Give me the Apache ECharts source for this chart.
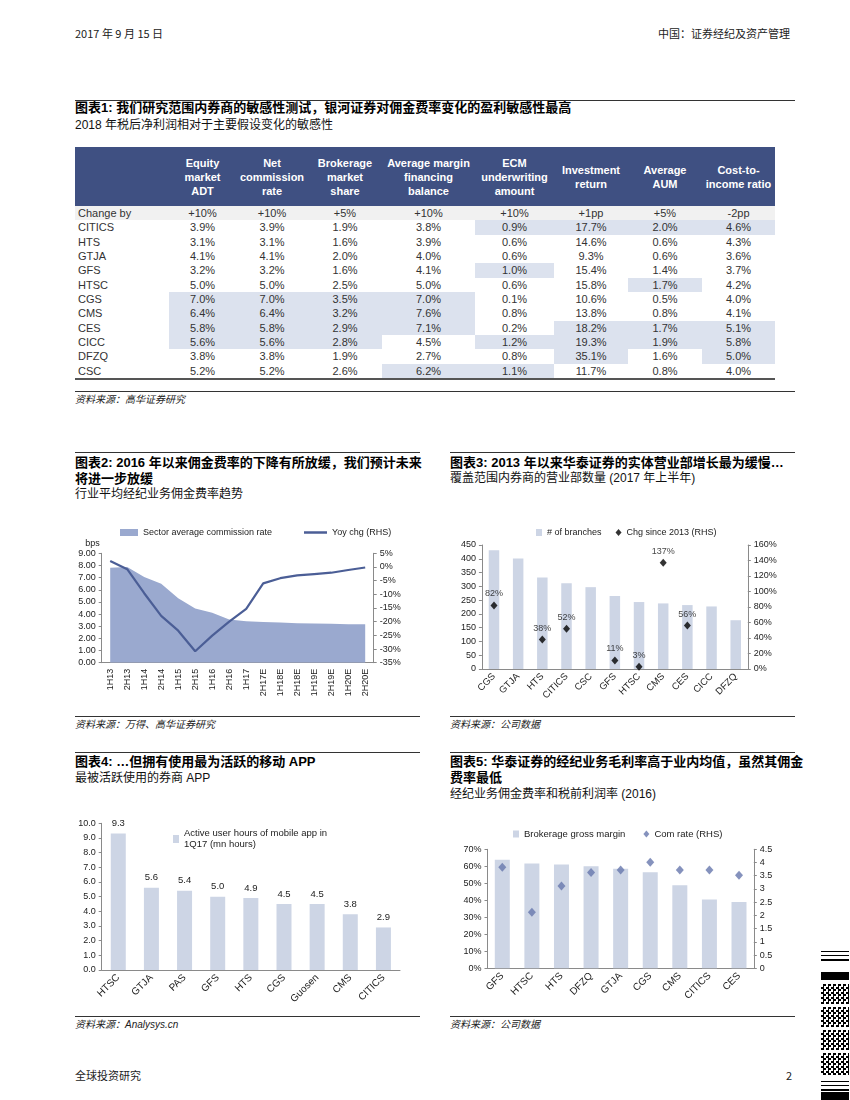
<!DOCTYPE html>
<html><head><meta charset="utf-8">
<script src="https://cdn.jsdelivr.net/npm/echarts@6/dist/echarts.min.js"></script>
<style>
body{margin:0;width:850px;height:1100px;position:relative;background:#fff;font-family:"Liberation Sans","Noto Sans CJK SC",sans-serif;color:#000;overflow:hidden}
.t{position:absolute;white-space:nowrap}
.title{font-weight:bold;font-size:13px;line-height:16px}
.sub{font-size:12px;line-height:16px;color:#111}
.src{font-size:10px;font-style:italic;line-height:14px;color:#222}
.hdr{font-size:11px;line-height:14px;font-family:"Noto Sans CJK SC","Liberation Sans",sans-serif;color:#222}
.rule{position:absolute;border-top:1.3px solid #333;height:0}
.chart{position:absolute}
#tbl{position:absolute;left:75px;top:147px;border-collapse:collapse;table-layout:fixed;font-size:11px;width:700px}
#tbl th{background:#3f5082;color:#fff;font-weight:bold;height:59px;padding:0;line-height:14px;text-align:center;white-space:nowrap;font-size:11px}
#tbl td{height:14.33px;padding:0;line-height:14px;text-align:center;color:#333;white-space:nowrap}
#tbl td.lab{text-align:left;padding-left:3px}
#tbl tr.chg td{background:#f1f1f1}
#tbl td.hi{background:#dce2ee}
#tbl tr:last-child td{border-bottom:2px solid #555}
#bc{position:absolute;left:821px;top:950px;width:28px;height:150px}
#bc div{position:absolute;left:0;width:28px;background:#000}
#bc div.qr{background:repeating-conic-gradient(#000 0 25%,#fff 0 50%) 0 0/5px 5px}
</style></head>
<body>
<div class="t hdr" style="left:75px;top:26px">2017 年 9 月 15 日</div>
<div class="t hdr" style="right:60px;top:26px">中国：证券经纪及资产管理</div>

<div class="rule" style="left:75px;top:100px;width:720px"></div>
<div class="t title" style="left:75px;top:100px">图表1: 我们研究范围内券商的敏感性测试，银河证券对佣金费率变化的盈利敏感性最高</div>
<div class="t sub" style="left:75px;top:117px">2018 年税后净利润相对于主要假设变化的敏感性</div>
<table id="tbl"></table>
<div class="rule" style="left:75px;top:391px;width:720px"></div>
<div class="t src" style="left:75px;top:393px">资料来源：高华证券研究</div>

<div class="rule" style="left:75px;top:452px;width:345px"></div>
<div class="t title" style="left:75px;top:455px">图表2: 2016 年以来佣金费率的下降有所放缓，我们预计未来<br>将进一步放缓</div>
<div class="t sub" style="left:75px;top:486px">行业平均经纪业务佣金费率趋势</div>
<div id="c2" class="chart" style="left:70px;top:515px;width:350px;height:195px"></div>
<div class="rule" style="left:75px;top:716px;width:345px"></div>
<div class="t src" style="left:75px;top:718px">资料来源：万得、高华证券研究</div>

<div class="rule" style="left:450px;top:452px;width:345px"></div>
<div class="t title" style="left:450px;top:455px">图表3: 2013 年以来华泰证券的实体营业部增长最为缓慢…</div>
<div class="t sub" style="left:450px;top:470px">覆盖范围内券商的营业部数量 (2017 年上半年)</div>
<div id="c3" class="chart" style="left:445px;top:515px;width:355px;height:195px"></div>
<div class="rule" style="left:450px;top:716px;width:345px"></div>
<div class="t src" style="left:450px;top:718px">资料来源：公司数据</div>

<div class="rule" style="left:75px;top:752px;width:345px"></div>
<div class="t title" style="left:75px;top:754px">图表4: …但拥有使用最为活跃的移动 APP</div>
<div class="t sub" style="left:75px;top:770px">最被活跃使用的券商 APP</div>
<div id="c4" class="chart" style="left:70px;top:790px;width:350px;height:222px"></div>
<div class="rule" style="left:75px;top:1016px;width:345px"></div>
<div class="t src" style="left:75px;top:1018px">资料来源：Analysys.cn</div>

<div class="rule" style="left:450px;top:752px;width:345px"></div>
<div class="t title" style="left:450px;top:754px">图表5: 华泰证券的经纪业务毛利率高于业内均值，虽然其佣金<br>费率最低</div>
<div class="t sub" style="left:450px;top:786px">经纪业务佣金费率和税前利润率 (2016)</div>
<div id="c5" class="chart" style="left:445px;top:790px;width:355px;height:222px"></div>
<div class="rule" style="left:450px;top:1016px;width:345px"></div>
<div class="t src" style="left:450px;top:1018px">资料来源：公司数据</div>

<div class="t hdr" style="left:75px;top:1068px">全球投资研究</div>
<div class="t hdr" style="left:786px;top:1068px">2</div>

<div id="bc">
<div style="top:1px;height:1px"></div><div style="top:5px;height:1px"></div><div style="top:9px;height:1.5px"></div>
<div style="top:22px;height:8px"></div>
<div class="qr" style="top:34px;height:20px"></div>
<div class="qr" style="top:57px;height:20px"></div>
<div class="qr" style="top:80px;height:20px"></div>
<div class="qr" style="top:103px;height:22px"></div>
<div style="top:131px;height:1px"></div><div style="top:135px;height:1px"></div><div style="top:139px;height:1.5px"></div>
<div style="top:142px;height:8px"></div>
</div>

<script>
// ---------- Table 1 data ----------
const tblHeaders = ['Equity<br>market<br>ADT','Net<br>commission<br>rate','Brokerage<br>market<br>share','Average margin<br>financing<br>balance','ECM<br>underwriting<br>amount','Investment<br>return','Average<br>AUM','Cost-to-<br>income ratio'];
const tblChangeBy = ['+10%','+10%','+5%','+10%','+10%','+1pp','+5%','-2pp'];
const tblBrokers = ['CITICS','HTS','GTJA','GFS','HTSC','CGS','CMS','CES','CICC','DFZQ','CSC'];
const tblEquityADT = [3.9,3.1,4.1,3.2,5.0,7.0,6.4,5.8,5.6,3.8,5.2];
const tblCommission = [3.9,3.1,4.1,3.2,5.0,7.0,6.4,5.8,5.6,3.8,5.2];
const tblBrokerShare = [1.9,1.6,2.0,1.6,2.5,3.5,3.2,2.9,2.8,1.9,2.6];
const tblMargin = [3.8,3.9,4.0,4.1,5.0,7.0,7.6,7.1,4.5,2.7,6.2];
const tblECM = [0.9,0.6,0.6,1.0,0.6,0.1,0.8,0.2,1.2,0.8,1.1];
const tblInvest = [17.7,14.6,9.3,15.4,15.8,10.6,13.8,18.2,19.3,35.1,11.7];
const tblAUM = [2.0,0.6,0.6,1.4,1.7,0.5,0.8,1.7,1.9,1.6,0.8];
const tblCost = [4.6,4.3,3.6,3.7,4.2,4.0,4.1,5.1,5.8,5.0,4.0];

// ---------- Chart 2 data ----------
const c2Periods = ['1H13','2H13','1H14','2H14','1H15','2H15','1H16','2H16','1H17','2H17E','1H18E','2H18E','1H19E','2H19E','1H20E','2H20E'];
const c2Rate = [7.82,7.88,7.05,6.5,5.3,4.45,4.1,3.55,3.42,3.35,3.3,3.25,3.22,3.2,3.17,3.16];
const c2Yoy = [2.2,-0.8,-9.6,-17.9,-23.3,-30.8,-25.1,-20.0,-15.3,-6.0,-4.1,-3.1,-2.6,-2.1,-1.1,-0.2];

// ---------- Chart 3 data ----------
const c3Brokers = ['CGS','GTJA','HTS','CITICS','CSC','GFS','HTSC','CMS','CES','CICC','DFZQ'];
const c3Branches = [431,401,332,311,297,265,243,238,232,227,177];
const c3Chg = [82,null,38,52,null,11,3,137,56,null,null];

// ---------- Chart 4 data ----------
const c4Brokers = ['HTSC','GTJA','PAS','GFS','HTS','CGS','Guosen','CMS','CITICS'];
const c4Hours = [9.3,5.6,5.4,5.0,4.9,4.5,4.5,3.8,2.9];

// ---------- Chart 5 data ----------
const c5Brokers = ['GFS','HTSC','HTS','DFZQ','GTJA','CGS','CMS','CITICS','CES'];
const c5Margin = [63.8,61.6,61.0,60.0,58.6,56.5,48.8,40.5,39.0];
const c5ComRate = [3.82,2.12,3.11,3.62,3.72,4.01,3.72,3.72,3.52];

// ---------- build table ----------
(function(){
  const cols=[tblEquityADT,tblCommission,tblBrokerShare,tblMargin,tblECM,tblInvest,tblAUM,tblCost];
  const widths=[94,67,72,74,93,79,74,74,73];
  const thr=cols.map(c=>[...c].sort((a,b)=>b-a)[3]);
  let h='<colgroup>'+widths.map(w=>'<col style="width:'+w+'px">').join('')+'</colgroup>';
  h+='<tr><th></th>'+tblHeaders.map(x=>'<th>'+x+'</th>').join('')+'</tr>';
  h+='<tr class="chg"><td class="lab">Change by</td>'+tblChangeBy.map(x=>'<td>'+x+'</td>').join('')+'</tr>';
  tblBrokers.forEach((b,i)=>{
    h+='<tr><td class="lab">'+b+'</td>'+cols.map((c,j)=>'<td'+(c[i]>=thr[j]?' class="hi"':'')+'>'+c[i].toFixed(1)+'%</td>').join('')+'</tr>';
  });
  document.getElementById('tbl').innerHTML=h;
})();

const AX='#8a8a8a', TX='#222', FF='Liberation Sans';
function vAxis(o){
  return Object.assign({type:'value',splitLine:{show:false},
    axisLine:{show:true,lineStyle:{color:AX}},axisTick:{show:true,length:3,lineStyle:{color:AX}},
    axisLabel:{fontSize:9,color:TX,margin:6,fontFamily:FF}},o);
}
function cAxis(data,rot,fs){
  return {type:'category',data:data,boundaryGap:true,
    axisLine:{lineStyle:{color:AX}},axisTick:{length:3,lineStyle:{color:AX}},
    axisLabel:{rotate:rot,interval:0,fontSize:fs,color:TX,margin:6,fontFamily:FF}};
}
const LT={fontSize:9,color:TX,fontFamily:FF};

// ---------- Chart 2 ----------
echarts.init(document.getElementById('c2')).setOption({
  animation:false,textStyle:{fontFamily:FF},
  legend:[{left:45,top:8,itemWidth:18,itemHeight:7,icon:'rect',data:['Sector average commission rate'],textStyle:LT},
          {left:229,top:8,itemWidth:23,itemHeight:2.5,icon:'rect',data:['Yoy chg (RHS)'],textStyle:LT}],
  grid:{left:31.7,top:38.3,width:272,height:109.4},
  xAxis:cAxis(c2Periods,90,9),
  yAxis:[vAxis({min:0,max:9,interval:1,name:'bps',nameGap:5,nameTextStyle:{align:'right',fontSize:9,color:TX,padding:[0,2,0,0]},
           axisLabel:{formatter:v=>v.toFixed(2),fontSize:9,color:TX,margin:6,fontFamily:FF}}),
         vAxis({min:-35,max:5,interval:5,position:'right',axisLabel:{formatter:'{value}%',fontSize:9,color:TX,margin:6,fontFamily:FF}})],
  series:[{name:'Sector average commission rate',type:'line',data:c2Rate,symbol:'none',lineStyle:{width:0},
           areaStyle:{color:'#9aa9cf',opacity:1},itemStyle:{color:'#9aa9cf'}},
          {name:'Yoy chg (RHS)',type:'line',yAxisIndex:1,data:c2Yoy,symbol:'none',z:5,
           lineStyle:{width:2.2,color:'#4b5e96'},itemStyle:{color:'#4b5e96'}}]
});

// ---------- Chart 3 ----------
echarts.init(document.getElementById('c3')).setOption({
  animation:false,textStyle:{fontFamily:FF},
  legend:{left:86,top:8,itemWidth:6,itemHeight:7,itemGap:14,textStyle:LT,
    data:[{name:'# of branches',icon:'rect'},{name:'Chg since 2013 (RHS)',icon:'diamond'}]},
  grid:{left:36.9,top:30,width:265.9,height:124},
  xAxis:cAxis(c3Brokers,45,9.5),
  yAxis:[vAxis({min:0,max:450,interval:50}),
         vAxis({min:0,max:160,interval:20,position:'right',axisLabel:{formatter:'{value}%',fontSize:9,color:TX,margin:6,fontFamily:FF}})],
  series:[{name:'# of branches',type:'bar',data:c3Branches,barWidth:10.5,itemStyle:{color:'#cdd5e5'}},
          {name:'Chg since 2013 (RHS)',type:'scatter',yAxisIndex:1,data:c3Chg,symbol:'diamond',symbolSize:[7,8],
           itemStyle:{color:'#000'},label:{show:true,position:'top',distance:3,fontSize:9,color:'#111',fontFamily:FF,formatter:p=>p.value+'%'}}]
});

// ---------- Chart 4 ----------
echarts.init(document.getElementById('c4')).setOption({
  animation:false,textStyle:{fontFamily:FF},
  legend:{left:98,top:33,itemWidth:6,itemHeight:8,icon:'rect',data:['Active user hours of mobile app in\n1Q17 (mn hours)'],
    textStyle:{fontSize:9.5,color:TX,fontFamily:FF,lineHeight:11}},
  grid:{left:31.7,top:33.3,width:298.3,height:146.7},
  xAxis:cAxis(c4Brokers,45,10),
  yAxis:vAxis({min:0,max:10,interval:1,axisLabel:{formatter:v=>v.toFixed(1),fontSize:9,color:TX,margin:6,fontFamily:FF}}),
  series:[{name:'Active user hours of mobile app in\n1Q17 (mn hours)',type:'bar',data:c4Hours,barWidth:15,itemStyle:{color:'#cdd5e5'},
           label:{show:true,position:'top',distance:5,fontSize:9.5,color:TX,fontFamily:FF,formatter:p=>p.value.toFixed(1)}}]
});

// ---------- Chart 5 ----------
echarts.init(document.getElementById('c5')).setOption({
  animation:false,textStyle:{fontFamily:FF},
  legend:{left:63,top:34,itemWidth:6,itemHeight:7,itemGap:18,textStyle:{fontSize:9.5,color:TX,fontFamily:FF},
    data:[{name:'Brokerage gross margin',icon:'rect'},{name:'Com rate (RHS)',icon:'diamond'}]},
  grid:{left:42.5,top:59.3,width:266.3,height:119},
  xAxis:cAxis(c5Brokers,45,10),
  yAxis:[vAxis({min:0,max:70,interval:10,axisLabel:{formatter:'{value}%',fontSize:9,color:TX,margin:6,fontFamily:FF}}),
         vAxis({min:0,max:4.5,interval:0.5,position:'right'})],
  series:[{name:'Brokerage gross margin',type:'bar',data:c5Margin,barWidth:15,itemStyle:{color:'#cdd5e5'}},
          {name:'Com rate (RHS)',type:'scatter',yAxisIndex:1,data:c5ComRate,symbol:'diamond',symbolSize:[8,9],itemStyle:{color:'#6677ad'}}]
});
</script>
</body></html>
